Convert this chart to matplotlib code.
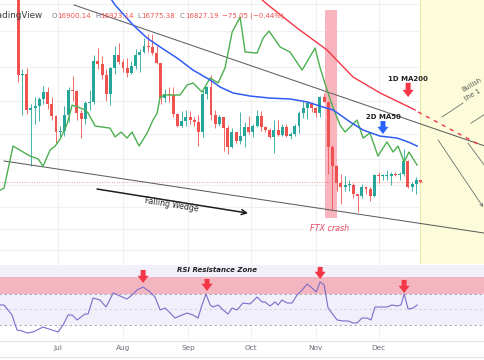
import matplotlib
matplotlib.use("Agg")
import matplotlib.pyplot as plt
from matplotlib.lines import Line2D

W, H = 485, 360

# ---------------- data ----------------
# time axis: days since 2022-07-01 ; 2-day BTC candles, 2022-06-12 .. 2022-12-21 (prices in $k)
candle_day = list(range(-19, 175, 2))
opens = [28.40, 22.50, 22.60, 20.50, 20.60, 20.70, 21.10, 21.50, 20.80, 20.15,
         19.30, 19.35, 20.20, 21.65, 21.55, 20.30, 20.00, 20.85, 20.95, 23.40,
         23.20, 22.50, 21.40, 22.95, 23.80, 23.35, 22.95, 22.65, 23.10, 23.80,
         23.95, 24.40, 24.30, 23.90, 23.30, 21.15, 21.40, 21.35, 20.25, 19.60,
         19.85, 20.10, 19.90, 19.80, 19.30, 21.40, 21.80, 20.20, 19.70, 20.10,
         19.50, 18.50, 19.30, 18.80, 19.10, 19.55, 19.30, 19.60, 20.15, 19.55,
         19.40, 19.00, 19.40, 19.15, 19.55, 19.10, 19.20, 19.60, 20.30, 20.60,
         20.85, 20.60, 20.30, 21.20, 20.90, 18.50, 17.60, 16.80, 16.60, 16.70,
         16.70, 16.30, 16.20, 16.60, 16.50, 16.20, 17.15, 17.10, 17.10, 17.10,
         17.20, 17.15, 17.20, 17.80, 16.60, 16.75, 16.900]
highs = [28.55, 22.90, 22.95, 20.80, 21.20, 21.20, 21.85, 21.80, 21.20, 20.20,
         19.60, 20.70, 21.80, 22.45, 21.60, 20.50, 21.00, 21.60, 23.80, 24.25,
         23.70, 22.90, 23.00, 24.40, 24.60, 23.50, 23.60, 23.40, 24.20, 24.20,
         24.90, 25.20, 25.20, 24.40, 23.30, 21.70, 21.80, 21.80, 20.30, 20.40,
         20.45, 20.40, 20.10, 20.20, 21.60, 21.85, 22.50, 20.50, 20.20, 20.10,
         19.65, 19.50, 19.30, 20.35, 19.80, 20.15, 19.70, 20.45, 20.40, 19.60,
         19.50, 19.95, 19.90, 19.70, 19.70, 19.30, 19.70, 20.40, 21.00, 20.95,
         20.95, 20.65, 21.30, 21.45, 21.00, 18.60, 17.65, 17.20, 17.10, 16.90,
         16.80, 16.30, 16.75, 16.65, 16.60, 17.20, 17.30, 17.20, 17.40, 17.30,
         17.30, 17.30, 18.40, 17.85, 16.85, 17.05, 16.923]
lows = [22.10, 20.20, 20.25, 17.60, 19.70, 19.85, 20.80, 20.55, 19.90, 18.70,
        18.95, 19.10, 19.80, 21.00, 19.90, 18.95, 19.70, 20.50, 20.80, 22.90,
        22.30, 21.00, 20.75, 22.60, 23.20, 22.70, 22.40, 22.60, 22.90, 22.70,
        23.90, 24.00, 23.80, 23.20, 20.80, 20.90, 20.90, 20.10, 19.55, 19.55,
        19.60, 19.70, 19.60, 18.55, 19.00, 21.10, 19.90, 19.50, 19.60, 18.30,
        18.15, 18.45, 18.70, 18.65, 18.50, 19.20, 19.00, 19.55, 19.35, 19.30,
        18.95, 18.20, 19.10, 19.10, 19.00, 18.90, 19.10, 19.25, 20.05, 20.00,
        20.35, 20.10, 20.10, 20.90, 17.20, 15.60, 16.40, 15.85, 16.40, 16.40,
        16.10, 15.50, 16.10, 16.30, 16.00, 16.15, 16.80, 16.90, 16.90, 16.70,
        17.10, 16.90, 17.10, 16.55, 16.40, 16.30, 16.775]
closes = [22.50, 22.60, 20.50, 20.60, 20.70, 21.10, 21.50, 20.80, 20.15, 19.30,
          19.35, 20.20, 21.65, 21.55, 20.30, 20.00, 20.85, 20.95, 23.40, 23.20,
          22.50, 21.40, 22.95, 23.80, 23.35, 22.95, 22.65, 23.10, 23.80, 23.95,
          24.40, 24.30, 23.90, 23.30, 21.15, 21.40, 21.35, 20.25, 19.60, 19.85,
          20.10, 19.90, 19.80, 19.30, 21.40, 21.80, 20.20, 19.70, 20.10, 19.50,
          18.50, 19.30, 18.80, 19.10, 19.55, 19.30, 19.60, 20.15, 19.55, 19.40,
          19.00, 19.40, 19.15, 19.55, 19.10, 19.20, 19.60, 20.30, 20.60, 20.85,
          20.60, 20.30, 21.20, 20.90, 18.50, 17.60, 16.80, 16.60, 16.70, 16.70,
          16.30, 16.20, 16.60, 16.50, 16.20, 17.15, 17.10, 17.10, 17.10, 17.20,
          17.15, 17.20, 17.80, 16.60, 16.75, 16.90, 16.827]
last_price = 16.827

ma50_day = [24.0, 27.2, 35.8, 42.5, 48.7, 56.8, 64.4, 72.6, 77.3, 83.5, 91.6, 101.2,
            110.7, 118.9, 126.5, 131.3, 139.4, 145.6, 153.7, 161.8, 167.1, 171.4]
ma50_val = [28.0, 27.26, 25.81, 24.91, 24.31, 23.59, 22.83, 22.22, 21.80, 21.45, 21.27, 21.15,
            21.10, 20.93, 20.64, 20.48, 19.82, 19.39, 19.07, 18.97, 18.77, 18.56]

ma200_day = [96.4, 100.2, 114.1, 128.4, 140.8, 153.7, 170.4]
ma200_val = [27.78, 27.26, 25.60, 24.11, 22.40, 21.45, 20.48]
ma200_proj_day = [171.8, 201.4]
ma200_proj_val = [20.37, 18.61]

green_day = [-27.7, -25.8, -21.5, -13.4, -9.5, -7.2, -3.8, -1.4, 1.0, 4.3, 6.7, 9.5, 12.9, 14.3,
             17.7, 24.8, 27.2, 30.1, 32.9, 35.3, 38.7, 42.5, 45.3, 47.3, 48.7, 51.1, 58.2, 61.6,
             64.4, 68.7, 72.6, 76.4, 79.7, 83.1, 86.9, 89.3, 95.0, 97.9, 100.7, 106.0, 110.7,
             116.5, 122.7, 125.1, 128.4, 131.3, 134.6, 137.0, 142.7, 145.6, 148.9, 152.7,
             157.0, 159.9, 162.3, 165.2, 167.5, 171.4]
green_val = [16.46, 16.55, 18.56, 18.06, 17.92, 17.57, 18.36, 18.56, 18.92, 19.70, 20.75, 20.64,
             20.48, 20.31, 19.60, 19.49, 19.03, 19.28, 18.97, 19.28, 18.56, 19.23, 19.92, 20.31,
             21.21, 21.33, 21.33, 21.92, 22.04, 21.50, 22.34, 22.04, 22.96, 25.32, 26.37, 23.98,
             23.91, 24.91, 25.39, 24.31, 23.98, 22.83, 24.24, 22.96, 21.62, 20.59, 19.65, 19.28,
             19.92, 18.97, 19.23, 18.06, 18.77, 18.26, 18.56, 17.77, 18.26, 17.62]

upper_wedge_day = [7.6, 203.8]
upper_wedge_val = [27.26, 18.56]
lower_wedge_day = [-25.8, 203.8]
lower_wedge_val = [17.82, 14.64]

proj_lines = [([183.3, 193.3], [20.09, 20.87]),
              ([197.1, 203.8], [19.75, 20.25]),
              ([195.7, 203.8], [18.71, 17.57])]
proj_arrow = ([181.4, 202.9], [18.87, 15.72])

rsi_day = [-27.7, -25.8, -22.0, -19.6, -17.2, -14.8, -11.9, -7.2, -2.9, 0.0, 2.4, 4.8, 6.7, 9.1,
           12.9, 14.3, 16.7, 20.0, 22.9, 26.3, 29.6, 32.9, 35.3, 37.7, 40.6, 43.9, 46.3, 48.7,
           51.1, 53.5, 55.8, 59.2, 61.6, 64.4, 66.8, 68.7, 70.6, 72.6, 74.0, 76.4, 78.8, 81.1,
           83.1, 85.4, 88.3, 91.6, 95.0, 97.4, 98.8, 101.2, 103.6, 105.0, 106.9, 109.3, 111.7,
           114.1, 116.5, 118.9, 121.2, 123.2, 125.1, 127.0, 128.9, 133.2, 136.0, 138.4, 140.8,
           142.7, 145.1, 147.5, 149.4, 151.3, 153.7, 157.0, 159.4, 161.8, 163.7, 165.2, 167.1,
           169.5, 171.4]
rsi_val = [55.8, 55.8, 42.9, 23.5, 22.3, 19.7, 21.0, 27.4, 23.5, 21.0, 30.0, 42.9, 42.9, 36.5,
           44.2, 44.2, 64.8, 62.3, 53.2, 71.3, 67.4, 63.5, 68.7, 75.2, 79.0, 72.6, 66.1, 49.4,
           51.9, 45.5, 39.0, 42.9, 45.5, 42.9, 39.0, 55.8, 70.0, 55.8, 53.2, 55.8, 49.4, 44.2,
           51.9, 49.4, 58.4, 57.1, 66.1, 59.7, 59.7, 54.5, 59.7, 55.8, 62.3, 58.4, 58.4, 68.7,
           75.2, 82.9, 77.7, 72.6, 85.5, 81.6, 51.9, 36.5, 35.2, 35.2, 32.6, 32.6, 39.0, 39.0,
           36.5, 53.2, 53.2, 53.2, 55.8, 54.5, 55.8, 70.0, 50.6, 51.9, 55.8]

month_day = [-30, 0, 31, 62, 92, 123, 153]
month_label = ["Jun", "Jul", "Aug", "Sep", "Oct", "Nov", "Dec"]
grid_price = [27.3, 25.4, 23.0, 21.0, 19.2, 17.9, 16.7, 15.7, 14.8, 14.0]

header = [("O", "16900.14"), ("H", "16923.14"), ("L", "16775.38"), ("C", "16827.19")]
change_text = "\u221275.05 (\u22120.44%)"

# ---------------- style ----------------
UP, DOWN = "#26a69a", "#ef5350"
ARROW_RED = "#f23645"

fig = plt.figure(figsize=(W / 100, H / 100), dpi=100)
fig.patch.set_facecolor("white")
left, width = -10 / W, 495 / W
ax = fig.add_axes([left, 1 - 264 / H, width, 264 / H])
ax2 = fig.add_axes([left, 1 - 341 / H, width, 77 / H], sharex=ax)

xlim = (-32.5, 203.8)
ax.set_xlim(*xlim)
ax.set_yscale("log")
ax.set_ylim(13.46, 27.63)
for a in (ax, ax2):
    for s in a.spines.values():
        s.set_visible(False)
    a.tick_params(length=0)
    for d in month_day:
        a.axvline(d, color="#f0f0f3", lw=0.8, zorder=0)
ax.set_yticks([])
ax.yaxis.set_minor_locator(matplotlib.ticker.NullLocator())
ax.tick_params(labelbottom=False)
for p in grid_price:
    ax.axhline(p, color="#f0f0f3", lw=0.8, zorder=0)

# yellow projection zone
ax.axvspan(172.8, xlim[1] + 5, color="#fcfcdb", zorder=0.5, lw=0)
ax.axvline(172.8, color="#ececa8", lw=0.7, zorder=0.6)

# FTX crash band
ax.fill_between([127.4, 133.2], 15.25, 26.89, color="#f7a3ad", alpha=0.8, lw=0, zorder=1)

# current price dotted line
ax.plot([xlim[0], 174.5], [last_price, last_price], color="#ef5350", lw=0.6,
        ls=(0, (1, 2)), alpha=0.8, zorder=1.5)

# candles
cols = [UP if c >= o else DOWN for o, c in zip(opens, closes)]
ax.vlines(candle_day, lows, highs, colors=cols, lw=0.6, zorder=3)
bottoms = [min(o, c) for o, c in zip(opens, closes)]
heights = [max(abs(c - o), 0.04) for o, c in zip(opens, closes)]
ax.bar(candle_day, heights, bottom=bottoms, width=1.4, color=cols, lw=0, zorder=3.2)

# trend lines
ax.plot(upper_wedge_day, upper_wedge_val, color="#5f5f5f", lw=0.75, zorder=4)
ax.plot(lower_wedge_day, lower_wedge_val, color="#5f5f5f", lw=0.75, zorder=4)
for xs, ys in proj_lines:
    ax.plot(xs, ys, color="#707070", lw=0.6, zorder=4)
ax.annotate("", xy=(proj_arrow[0][1], proj_arrow[1][1]), xytext=(proj_arrow[0][0], proj_arrow[1][0]),
            arrowprops=dict(arrowstyle="->", color="#707070", lw=0.6, mutation_scale=5,
                            shrinkA=0, shrinkB=0), zorder=4)

# moving averages and green line
ax.plot(green_day, green_val, color="#4caf50", lw=1.0, zorder=5)
ax.plot(ma50_day, ma50_val, color="#2f5cf5", lw=1.1, zorder=5)
ax.plot(ma200_day, ma200_val, color="#f23645", lw=1.0, zorder=5)
ax.plot(ma200_proj_day, ma200_proj_val, color="#f23645", lw=1.0, ls=(0, (3, 3.5)), zorder=5)

# falling wedge arrow and label
ax.annotate("", xy=(90.7, 15.46), xytext=(18.6, 16.51),
            arrowprops=dict(arrowstyle="->", color="#1e1e1e", lw=1.1, mutation_scale=9,
                            shrinkA=0, shrinkB=0), zorder=6)
ax.text(54.4, 15.80, "Falling Wedge", fontsize=5.6, color="#2a2a2a", rotation=-9,
        ha="center", va="center", zorder=6)
ax.text(129.8, 14.84, "FTX crash", fontsize=5.8, color="#e5475e", style="italic",
        ha="center", va="center", zorder=6)

block = "simple,head_length=0.65,head_width=1.0,tail_width=0.45"
ax.text(167.1, 22.30, "1D MA200", fontsize=5, fontweight="bold", color="#222",
        ha="center", va="center", zorder=6)
ax.annotate("", xy=(167.1, 21.21), xytext=(167.1, 22.05),
            arrowprops=dict(arrowstyle=block, color=ARROW_RED, lw=0, mutation_scale=8,
                            shrinkA=0, shrinkB=0), zorder=6)
ax.text(155.1, 20.10, "2D MA50", fontsize=5, fontweight="bold", color="#222",
        ha="center", va="center", zorder=6)
ax.annotate("", xy=(155.1, 19.18), xytext=(155.1, 19.87),
            arrowprops=dict(arrowstyle=block, color="#2962ff", lw=0, mutation_scale=8,
                            shrinkA=0, shrinkB=0), zorder=6)
ax.text(193.3, 21.50, "Bullish", fontsize=4.8, color="#555", rotation=30,
        rotation_mode="anchor", ha="left", va="baseline", zorder=6)
ax.text(194.9, 20.99, "the 1", fontsize=4.8, color="#555", rotation=30,
        rotation_mode="anchor", ha="left", va="baseline", zorder=6)

# ---------------- RSI pane ----------------
ax2.set_ylim(9.35, 108.7)
ax2.set_yticks([])
ax2.axhspan(30, 107.4, color="#f1eff9", lw=0, zorder=0.2)
ax2.axhspan(70, 91.9, color="#f3b6c1", lw=0, zorder=0.3)
for lvl, c in ((70, "#a0a0a8"), (30, "#a0a0a8"), (50, "#cfcde0")):
    ax2.axhline(lvl, color=c, lw=0.6, ls=(0, (3, 3)), zorder=0.5)
ax2.plot(rsi_day, rsi_val, color="#7b6ccc", lw=0.8, zorder=3)
ax2.text(75.9, 101.0, "RSI Resistance Zone", fontsize=5, fontweight="bold", style="italic",
         color="#222", ha="center", va="center", zorder=4)
for d, tail, tip in ((40.6, 101.0, 84.2), (71.1, 89.4, 73.9), (125.1, 104.8, 89.4), (165.2, 88.1, 71.3)):
    ax2.annotate("", xy=(d, tip), xytext=(d, tail),
                 arrowprops=dict(arrowstyle=block, color=ARROW_RED, lw=0, mutation_scale=8,
                                 shrinkA=0, shrinkB=0), zorder=5)
ax2.spines["bottom"].set_visible(True)
ax2.spines["bottom"].set_color("#e3e3e6")
ax2.spines["bottom"].set_linewidth(0.8)
ax2.set_xticks(month_day)
ax2.set_xticklabels(month_label, fontsize=5.3, color="#6a6d78")
ax2.tick_params(axis="x", pad=3.0, length=0)

fig.add_artist(Line2D([0, 1], [1 - 357 / H, 1 - 357 / H], color="#e3e3e6", lw=0.8))

# ---------------- header ----------------
fig.text(42 / W, 1 - 16 / H, "TradingView", ha="right", va="center", fontsize=6.3, color="#3c3c3c")
xs = [52, 95, 137, 180]
offs = [5.6, 5.4, 4.1, 5.0]
for (letter, val), x0, off in zip(header, xs, offs):
    fig.text(x0 / W, 1 - 16 / H, letter, ha="left", va="center", fontsize=5, color="#787b86")
    fig.text((x0 + off) / W, 1 - 16 / H, val, ha="left", va="center", fontsize=5, color="#ef5350")
fig.text(222 / W, 1 - 16 / H, change_text, ha="left", va="center", fontsize=5, color="#ef5350")

fig.savefig("out.png", dpi=100, facecolor="white")
